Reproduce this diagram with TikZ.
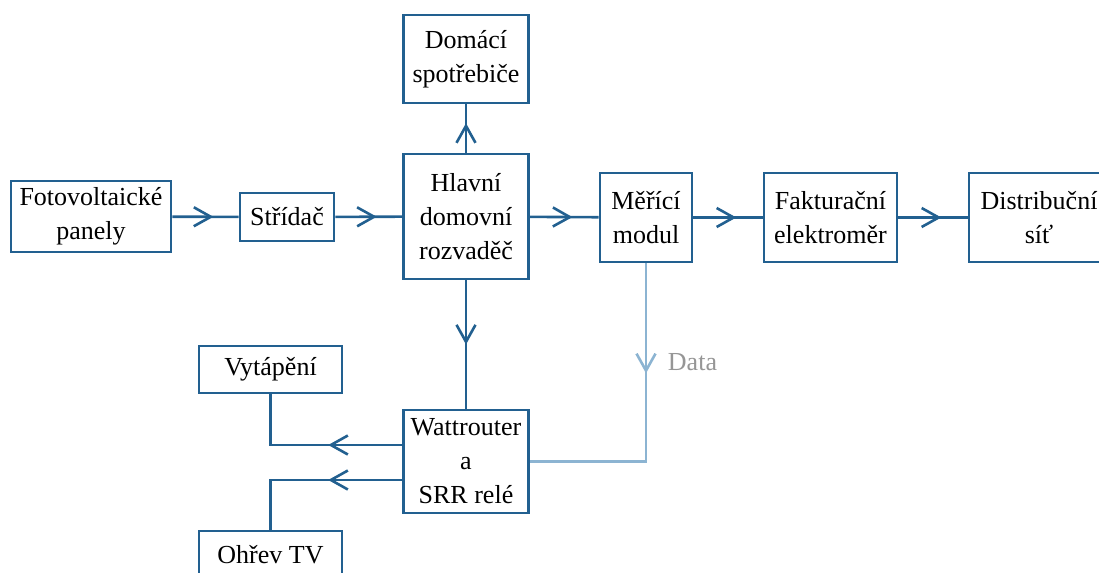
\documentclass[tikz,border=0pt]{standalone}
\usepackage{fontspec}
\setmainfont{Liberation Serif}
\usetikzlibrary{arrows.meta,decorations.markings}
\definecolor{linkblue}{RGB}{34,96,144}
\definecolor{datablue}{RGB}{140,180,210}
\definecolor{datagray}{RGB}{150,150,150}

\tikzset{
  block/.style={draw=linkblue, line width=1.3pt, inner sep=0pt, align=center,
    font=\fontsize{13}{17}\selectfont},
  flow/.style={draw=linkblue, line width=1.3pt},
  tipat/.style={postaction={decorate}, decoration={markings,
    mark=at position #1 with {\arrow{Straight Barb[length=8.5pt,width=9.5pt,line width=1.3pt]}}}}
}

\begin{document}
\begin{tikzpicture}[x=0.5pt, y=-0.5pt]
  \useasboundingbox (0,0) rectangle (1099,573);
  % main chain
  \node[block, minimum width=80pt, minimum height=35.5pt] (fve) at (91,216.5) {Fotovoltaické\\panely};
  \node[block, minimum width=47pt, minimum height=24pt] (menic) at (287,217) {Střídač};
  \node[block, minimum width=62.5pt, minimum height=62.5pt] (rozv) at (466,216.5) {Hlavní\\domovní\\rozvaděč};
  \node[block, minimum width=46pt, minimum height=44.5pt] (mer) at (646,217.5) {Měřící\\modul};
  \node[block, minimum width=66.5pt, minimum height=44.5pt] (fakt) at (830.5,217.5) {Fakturační\\elektroměr};
  \node[block, minimum width=70pt, minimum height=44.5pt] (sit) at (1039,217.5) {Distribuční\\síť};
  % consumers
  \node[block, minimum width=62.5pt, minimum height=44pt] (spotr) at (466,59) {Domácí\\spotřebiče};
  \node[block, minimum width=62.5pt, minimum height=51.5pt] (watt) at (466,461.5) {Wattrouter\\a\\SRR relé};
  \node[block, minimum width=71.5pt, minimum height=23.5pt] (vyt) at (270.5,369.5) {Vytápění};
  \node[block, minimum width=71.5pt, minimum height=23.5pt] (ohrev) at (270.5,554.5) {Ohřev TV};

  % power flow
  \foreach \from/\to in {fve/menic, menic/rozv, rozv/mer, mer/fakt, fakt/sit}{
    \draw[flow, tipat=0.62] (\from) -- (\to);
  }
  \draw[flow, tipat=0.61] (rozv) -- (spotr);
  \draw[flow, tipat=0.5] (rozv) -- (watt);
  \draw[flow, tipat=37pt] ([yshift=8.25pt]watt.west) -| (vyt.south);
  \draw[flow, tipat=37pt] ([yshift=-9.25pt]watt.west) -| (ohrev.north);
  % data link
  \draw[draw=datablue, line width=1.3pt, postaction={decorate}, decoration={markings,
    mark=at position 55pt with {\arrow[datablue]{Straight Barb[length=8.5pt,width=9.5pt,line width=1.3pt]}}}]
    (mer.south) |- node[pos=0.25, anchor=west, xshift=7pt, text=datagray,
      font=\fontsize{13}{17}\selectfont] (datalbl) {Data} (watt.east);
\end{tikzpicture}
\end{document}
